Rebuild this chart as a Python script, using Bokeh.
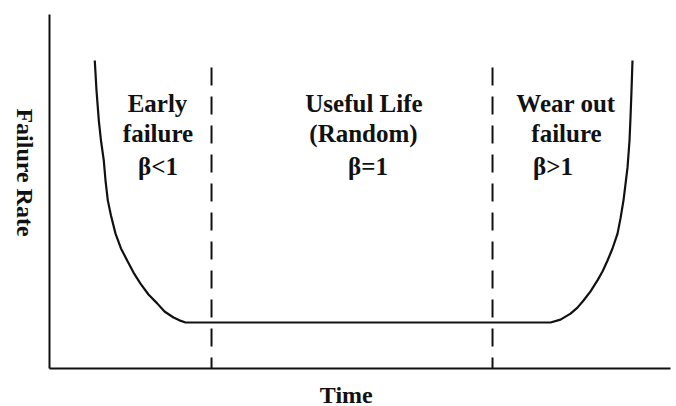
import numpy as np
from bokeh.plotting import figure
from bokeh.layouts import row, column
from bokeh.models import Range1d, FixedTicker
from bokeh.core.properties import value
from bokeh.embed import file_html
from bokeh.resources import INLINE

# Bathtub curve: time vs failure rate
time = [7.29, 7.57, 7.94, 8.29, 8.74, 9.02, 9.39, 9.90, 10.63, 11.51, 12.51,
        13.53, 14.65, 15.94, 17.34, 18.52, 19.97, 20.93, 21.90,
        80.68, 82.29, 83.90, 85.02, 85.99, 87.12, 88.24, 89.05, 89.86, 90.66,
        91.47, 91.95, 92.43, 92.75, 93.08, 93.40, 93.56, 93.72, 93.88]
failure_rate = [87.0, 78.5, 70.1, 64.4, 58.8, 53.1, 47.5, 43.2, 38.1, 33.9, 30.5,
                27.1, 24.0, 20.9, 18.4, 16.1, 14.4, 13.6, 13.0,
                13.0, 13.8, 15.5, 17.2, 19.2, 21.8, 24.9, 27.4, 30.5, 33.9,
                38.1, 42.4, 47.5, 52.0, 56.8, 64.4, 70.9, 78.5, 87.0]

# Region boundaries (dashed lines)
boundaries = [26.09, 71.34]
boundary_top = 85.0

# Region labels
region_lines = [
    ["Early", "failure", "\u03b2<1"],
    ["Useful Life", "(Random)", "\u03b2=1"],
    ["Wear out", "failure", "\u03b2>1"],
]
region_x = [[17.39, 17.47, 17.47], [50.64, 50.56, 51.29], [83.17, 83.25, 81.08]]
line_y = [74.9, 66.4, 57.1]

x_title = "Time"
y_title = "Failure Rate"

FONT = "Liberation Serif"
INK = "#111111"


def strip(w, h):
    f = figure(width=w, height=h, output_backend="svg", toolbar_location=None,
               x_range=Range1d(0, w), y_range=Range1d(0, h),
               min_border=0, min_border_left=0, min_border_right=0,
               min_border_top=0, min_border_bottom=0)
    f.axis.visible = False
    f.grid.visible = False
    f.outline_line_color = None
    return f


# narrow strip carrying the vertical axis title (reads top to bottom)
side = strip(41, 406)
side.text(x=[24], y=[234], text=[y_title], angle=-np.pi / 2,
          text_font=value(FONT), text_font_size="24px", text_font_style="bold",
          text_align="center", text_baseline="middle", text_color=INK)

# strip under the chart carrying the horizontal axis title
below = strip(635, 26)
below.text(x=[303.5], y=[12], text=[x_title],
           text_font=value(FONT), text_font_size="24px", text_font_style="bold",
           text_align="center", text_baseline="alphabetic", text_color=INK)

p = figure(width=635, height=380, output_backend="svg", toolbar_location=None,
           x_range=Range1d(0, 100), y_range=Range1d(0, 100),
           min_border_left=8, min_border_right=6, min_border_top=14,
           min_border_bottom=12)
p.outline_line_color = None
p.xgrid.visible = False
p.ygrid.visible = False
p.background_fill_color = "white"

for ax in (p.xaxis, p.yaxis):
    ax.ticker = FixedTicker(ticks=[])
    ax.major_tick_line_color = None
    ax.minor_tick_line_color = None
    ax.major_tick_out = 0
    ax.major_tick_in = 0
    ax.major_label_text_font_size = "0px"
    ax.major_label_standoff = 0
    ax.axis_line_width = 2
    ax.axis_line_color = INK

p.line(time, failure_rate, line_color=INK, line_width=2.2)

p.segment(x0=boundaries, y0=[boundary_top] * len(boundaries),
          x1=boundaries, y1=[0] * len(boundaries),
          line_color=INK, line_width=2, line_dash="18 11")

for lines, xs in zip(region_lines, region_x):
    p.text(x=xs, y=line_y, text=lines, text_font=value(FONT),
           text_font_size="25px", text_font_style="bold",
           text_align="center", text_baseline="alphabetic", text_color=INK)

layout = row(side, column(p, below, spacing=0), spacing=0)
open("out.html", "w").write(file_html(layout, INLINE))
